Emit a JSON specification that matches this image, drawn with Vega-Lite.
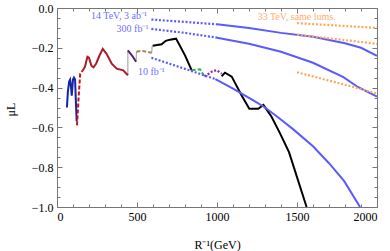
{
  "$schema": "https://vega.github.io/schema/vega-lite/v6.json",
  "width": 320,
  "height": 199,
  "autosize": {"type": "none"},
  "padding": {"left": 57, "top": 8, "right": 13, "bottom": 44},
  "background": "white",
  "config": {
    "view": {"stroke": null},
    "font": "Liberation Serif",
    "axis": {
      "labelFont": "Liberation Serif",
      "titleFont": "Liberation Serif",
      "labelFontSize": 12,
      "titleFontSize": 12,
      "labelColor": "#000",
      "titleColor": "#000",
      "titleFontWeight": "normal",
      "domainColor": "#777",
      "tickColor": "#777",
      "grid": false
    }
  },
  "datasets": {
    "curves": [
      {"s": "navy", "x": 62, "y": -0.5},
      {"s": "navy", "x": 68, "y": -0.42},
      {"s": "navy", "x": 76, "y": -0.37},
      {"s": "navy", "x": 82, "y": -0.36},
      {"s": "navy", "x": 88, "y": -0.4},
      {"s": "navy", "x": 92, "y": -0.44},
      {"s": "navy", "x": 100, "y": -0.36},
      {"s": "navy", "x": 106, "y": -0.35},
      {"s": "navy", "x": 113, "y": -0.36},
      {"s": "navy", "x": 118, "y": -0.47},
      {"s": "navy", "x": 123, "y": -0.57},
      {"s": "reddash", "x": 125, "y": -0.59},
      {"s": "reddash", "x": 135, "y": -0.45},
      {"s": "reddash", "x": 145, "y": -0.33},
      {"s": "reddash", "x": 160, "y": -0.315},
      {"s": "darkred", "x": 160, "y": -0.315},
      {"s": "darkred", "x": 175, "y": -0.295},
      {"s": "darkred", "x": 190, "y": -0.245},
      {"s": "darkred", "x": 200, "y": -0.25},
      {"s": "darkred", "x": 215, "y": -0.29},
      {"s": "darkred", "x": 228, "y": -0.298},
      {"s": "darkred", "x": 244, "y": -0.28},
      {"s": "darkred", "x": 265, "y": -0.24},
      {"s": "darkred", "x": 286, "y": -0.205},
      {"s": "darkred", "x": 310, "y": -0.23},
      {"s": "darkred", "x": 342, "y": -0.28},
      {"s": "darkred", "x": 373, "y": -0.305},
      {"s": "darkred", "x": 414, "y": -0.313},
      {"s": "darkred", "x": 443, "y": -0.338},
      {"s": "gray1", "x": 443, "y": -0.338},
      {"s": "gray1", "x": 443, "y": -0.213},
      {"s": "purple", "x": 443, "y": -0.213},
      {"s": "purple", "x": 470, "y": -0.24},
      {"s": "purple", "x": 494, "y": -0.27},
      {"s": "gray2", "x": 494, "y": -0.27},
      {"s": "gray2", "x": 496, "y": -0.22},
      {"s": "brown", "x": 496, "y": -0.22},
      {"s": "brown", "x": 530, "y": -0.215},
      {"s": "brown", "x": 560, "y": -0.22},
      {"s": "brown", "x": 592, "y": -0.225},
      {"s": "gray3", "x": 592, "y": -0.225},
      {"s": "gray3", "x": 595, "y": -0.19},
      {"s": "black1", "x": 598, "y": -0.19},
      {"s": "black1", "x": 654, "y": -0.182},
      {"s": "black1", "x": 680, "y": -0.165},
      {"s": "black1", "x": 706, "y": -0.159},
      {"s": "black1", "x": 744, "y": -0.154},
      {"s": "black1", "x": 800, "y": -0.238},
      {"s": "black1", "x": 842, "y": -0.313},
      {"s": "green", "x": 842, "y": -0.313},
      {"s": "green", "x": 873, "y": -0.31},
      {"s": "green", "x": 894, "y": -0.308},
      {"s": "green", "x": 922, "y": -0.345},
      {"s": "purpledot", "x": 922, "y": -0.345},
      {"s": "purpledot", "x": 967, "y": -0.32},
      {"s": "purpledot", "x": 998, "y": -0.312},
      {"s": "purpledot", "x": 1029, "y": -0.33},
      {"s": "black2", "x": 1029, "y": -0.343},
      {"s": "black2", "x": 1050, "y": -0.325},
      {"s": "black2", "x": 1092, "y": -0.345},
      {"s": "black2", "x": 1154, "y": -0.44},
      {"s": "black2", "x": 1202, "y": -0.506},
      {"s": "black2", "x": 1258, "y": -0.506},
      {"s": "black2", "x": 1290, "y": -0.487},
      {"s": "black2", "x": 1340, "y": -0.545},
      {"s": "black2", "x": 1394, "y": -0.63},
      {"s": "black2", "x": 1450, "y": -0.724},
      {"s": "black2", "x": 1560, "y": -1.0},
      {"s": "b10dot", "x": 590, "y": -0.25},
      {"s": "b10dot", "x": 842, "y": -0.317},
      {"s": "b10dot", "x": 990, "y": -0.357},
      {"s": "b10", "x": 990, "y": -0.357},
      {"s": "b10", "x": 1100, "y": -0.405},
      {"s": "b10", "x": 1227, "y": -0.464},
      {"s": "b10", "x": 1300, "y": -0.5},
      {"s": "b10", "x": 1383, "y": -0.55},
      {"s": "b10", "x": 1477, "y": -0.61},
      {"s": "b10", "x": 1600, "y": -0.695},
      {"s": "b10", "x": 1700, "y": -0.78},
      {"s": "b10", "x": 1795, "y": -0.87},
      {"s": "b10", "x": 1894, "y": -1.0},
      {"s": "b3dot", "x": 590, "y": -0.058},
      {"s": "b3dot", "x": 800, "y": -0.07},
      {"s": "b3dot", "x": 1000, "y": -0.082},
      {"s": "b3", "x": 1000, "y": -0.082},
      {"s": "b3", "x": 1200, "y": -0.1},
      {"s": "b3", "x": 1400, "y": -0.125},
      {"s": "b3", "x": 1600, "y": -0.145},
      {"s": "b3", "x": 1800, "y": -0.177},
      {"s": "b3", "x": 1900, "y": -0.2},
      {"s": "b3", "x": 2000, "y": -0.24},
      {"s": "b300dot", "x": 590, "y": -0.105},
      {"s": "b300dot", "x": 800, "y": -0.125},
      {"s": "b300dot", "x": 1000, "y": -0.149},
      {"s": "b300", "x": 1000, "y": -0.149},
      {"s": "b300", "x": 1200, "y": -0.18},
      {"s": "b300", "x": 1400, "y": -0.22},
      {"s": "b300", "x": 1600, "y": -0.275},
      {"s": "b300", "x": 1790, "y": -0.347},
      {"s": "b300", "x": 1880, "y": -0.397},
      {"s": "b300", "x": 2000, "y": -0.445},
      {"s": "o1", "x": 1500, "y": -0.076},
      {"s": "o1", "x": 2000, "y": -0.1},
      {"s": "o2", "x": 1500, "y": -0.134},
      {"s": "o2", "x": 2000, "y": -0.18},
      {"s": "o3", "x": 1500, "y": -0.323},
      {"s": "o3", "x": 1830, "y": -0.392},
      {"s": "o3", "x": 2000, "y": -0.43}
    ],
    "labels": [
      {"t": "14 TeV, 3 ab⁻¹", "g": "14", "x": 387, "y": -0.042},
      {"t": "300 fb⁻¹", "g": "14", "x": 472, "y": -0.104},
      {"t": "10 fb⁻¹", "g": "14", "x": 590, "y": -0.32},
      {"t": "33 TeV, same lums.", "g": "33", "x": 1498, "y": -0.045}
    ]
  },
  "resolve": {"axis": {"x": "independent", "y": "independent"}},
  "layer": [
    {
      "data": {"name": "curves"},
      "transform": [{"filter": {"field": "s", "oneOf": ["gray1", "gray2", "gray3"]}}],
      "mark": {"type": "line", "strokeWidth": 1, "clip": true},
      "encoding": {
        "x": {"field": "x", "type": "quantitative", "scale": {"domain": [0, 2000], "nice": false, "zero": false},
          "axis": {"orient": "top", "values": [100,200,300,400,600,700,800,900,1100,1200,1300,1400,1600,1700,1800,1900], "tickSize": -3, "labels": false, "domain": false, "title": null}},
        "y": {"field": "y", "type": "quantitative", "scale": {"domain": [-1, 0], "nice": false, "zero": false},
          "axis": {"orient": "right", "values": [-0.05,-0.1,-0.15,-0.25,-0.3,-0.35,-0.45,-0.5,-0.55,-0.65,-0.7,-0.75,-0.85,-0.9,-0.95], "tickSize": -3, "labels": false, "domain": false, "title": null}},
        "detail": {"field": "s"},
        "color": {"value": "#999999"},
        "order": {"value": null}
      }
    },
    {
      "data": {"name": "curves"},
      "transform": [{"filter": {"field": "s", "oneOf": ["navy", "darkred", "purple", "black1", "black2", "b3", "b300", "b10"]}}],
      "mark": {"type": "line", "strokeWidth": 2, "clip": true},
      "encoding": {
        "x": {"field": "x", "type": "quantitative", "scale": {"domain": [0, 2000], "nice": false, "zero": false},
          "axis": {"orient": "bottom", "values": [0, 500, 1000, 1500, 2000], "format": "d", "tickSize": -5, "labelPadding": 9, "title": "R⁻¹(GeV)", "titleY": 37, "titleBaseline": "middle", "titleX": 160, "titleAlign": "center"}},
        "y": {"field": "y", "type": "quantitative", "scale": {"domain": [-1, 0], "nice": false, "zero": false},
          "axis": {"orient": "left", "values": [0, -0.2, -0.4, -0.6, -0.8, -1.0], "format": ".1f", "tickSize": -5, "labelPadding": 9, "title": "μL", "titleAngle": -90, "titleX": -47, "titleY": 101, "titleAlign": "center", "titleBaseline": "middle"}},
        "color": {"field": "s", "type": "nominal", "legend": null,
          "scale": {"domain": ["navy", "darkred", "purple", "black1", "black2", "b3", "b300", "b10", "reddash", "brown", "green", "purpledot", "b3dot", "b300dot", "b10dot", "o1", "o2", "o3"],
                    "range": ["#1424a8", "#a81e28", "#5c1f6e", "#000000", "#000000", "#5a5aff", "#5a5aff", "#5a5aff", "#cc1111", "#a8825a", "#3cb83c", "#9a1f9a", "#5a5aff", "#5a5aff", "#5a5aff", "#ffa65a", "#ffa65a", "#ffa65a"]}},
        "order": {"value": null}
      }
    },
    {
      "data": {"name": "curves"},
      "transform": [{"filter": {"field": "s", "oneOf": ["reddash", "brown", "green"]}}],
      "mark": {"type": "line", "strokeWidth": 2, "strokeDash": [4, 2], "clip": true},
      "encoding": {
        "x": {"field": "x", "type": "quantitative",
          "axis": {"orient": "bottom", "values": [100,200,300,400,600,700,800,900,1100,1200,1300,1400,1600,1700,1800,1900], "tickSize": -3, "labels": false, "domain": false, "title": null}},
        "y": {"field": "y", "type": "quantitative",
          "axis": {"orient": "left", "values": [-0.05,-0.1,-0.15,-0.25,-0.3,-0.35,-0.45,-0.5,-0.55,-0.65,-0.7,-0.75,-0.85,-0.9,-0.95], "tickSize": -3, "labels": false, "domain": false, "title": null}},
        "color": {"field": "s", "type": "nominal", "legend": null},
        "order": {"value": null}
      }
    },
    {
      "data": {"name": "curves"},
      "transform": [{"filter": {"field": "s", "oneOf": ["purpledot", "b3dot", "b300dot", "b10dot", "o1", "o2", "o3"]}}],
      "mark": {"type": "line", "strokeWidth": 2.2, "strokeDash": [2, 1.8], "clip": true},
      "encoding": {
        "x": {"field": "x", "type": "quantitative",
          "axis": {"orient": "top", "values": [0, 500, 1000, 1500, 2000], "tickSize": -5, "labels": false, "title": null}},
        "y": {"field": "y", "type": "quantitative",
          "axis": {"orient": "right", "values": [0, -0.2, -0.4, -0.6, -0.8, -1.0], "tickSize": -5, "labels": false, "title": null}},
        "color": {"field": "s", "type": "nominal", "legend": null},
        "order": {"value": null}
      }
    },
    {
      "data": {"name": "labels"},
      "transform": [{"filter": "datum.g === '14'"}],
      "mark": {"type": "text", "font": "Liberation Serif", "fontSize": 10, "color": "#6f6fff", "align": "center", "baseline": "middle"},
      "encoding": {
        "x": {"field": "x", "type": "quantitative", "axis": null},
        "y": {"field": "y", "type": "quantitative", "axis": null},
        "text": {"field": "t"}
      }
    },
    {
      "data": {"name": "labels"},
      "transform": [{"filter": "datum.g === '33'"}],
      "mark": {"type": "text", "font": "Liberation Serif", "fontSize": 10, "color": "#ffac70", "align": "center", "baseline": "middle"},
      "encoding": {
        "x": {"field": "x", "type": "quantitative", "axis": null},
        "y": {"field": "y", "type": "quantitative", "axis": null},
        "text": {"field": "t"}
      }
    }
  ]
}
